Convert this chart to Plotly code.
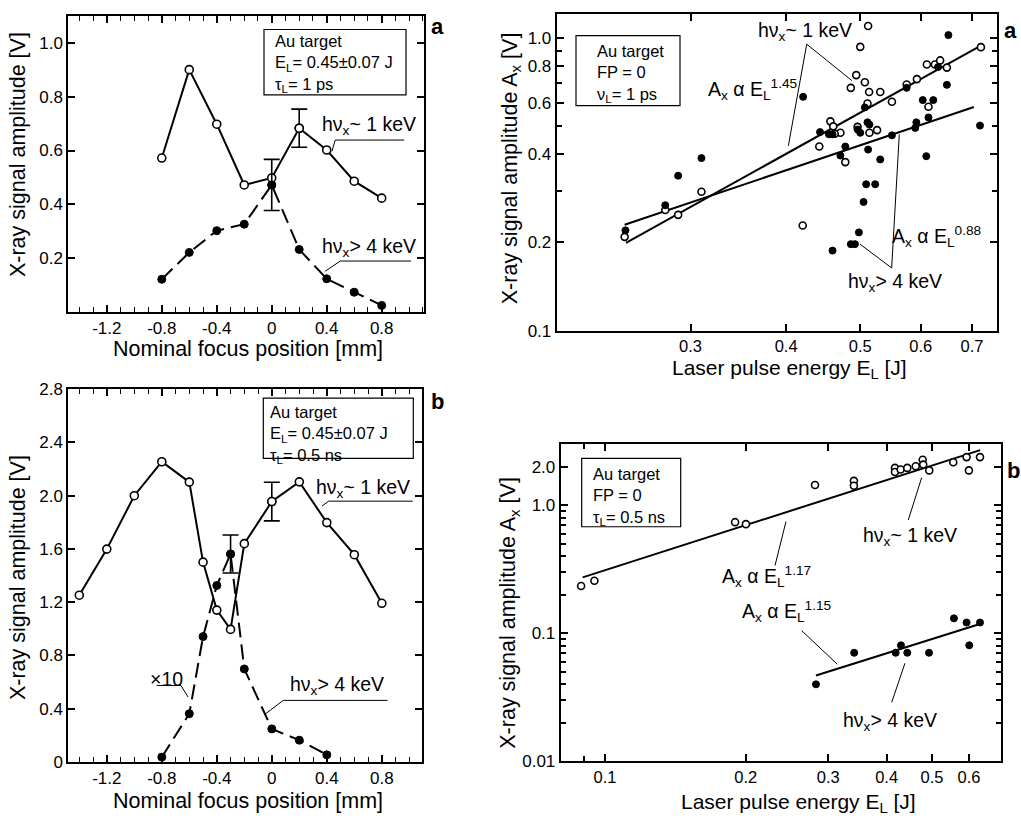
import numpy as np
import plotly.graph_objects as go

W, H = 1021, 823
FONT = "Liberation Sans, Arial, Helvetica, sans-serif"

# ---------------- data ----------------
# Panel a (left): focus scan, tau_L = 1 ps
a_focus_pos = [-0.8, -0.6, -0.4, -0.2, 0.0, 0.2, 0.4, 0.6, 0.8]
a_amp_1kev = [0.572, 0.901, 0.698, 0.472, 0.498, 0.683, 0.602, 0.486, 0.423]
a_amp_4kev = [0.121, 0.221, 0.302, 0.326, 0.472, 0.232, 0.123, 0.073, 0.024]
a_err1_pos, a_err1_val, a_err1 = [0.2], [0.683], [0.071]
a_err4_pos, a_err4_val, a_err4 = [0.0], [0.472], [0.095]

# Panel b (left): focus scan, tau_L = 0.5 ns (4 keV signal x10)
b_pos_1kev = [-1.4, -1.2, -1.0, -0.8, -0.6, -0.5, -0.4, -0.3, -0.2, 0.0, 0.2, 0.4, 0.6, 0.8]
b_amp_1kev = [1.252, 1.598, 1.999, 2.254, 2.101, 1.50, 1.14, 0.995, 1.639, 1.955, 2.103, 1.797, 1.556, 1.191]
b_pos_4kev = [-0.8, -0.6, -0.5, -0.4, -0.3, -0.2, 0.0, 0.2, 0.4]
b_amp_4kev = [0.036, 0.362, 0.941, 1.325, 1.561, 0.698, 0.248, 0.163, 0.053]
b_err1_pos, b_err1_val, b_err1 = [0.0], [1.955], [0.145]
b_err4_pos, b_err4_val, b_err4 = [-0.3], [1.561], [0.143]

# Panel a (right): energy scan, 1 ps
ea_E_1kev = [0.246, 0.278, 0.289, 0.310, 0.512, 0.500, 0.719, 0.494, 0.507, 0.486,
             0.5135, 0.531, 0.511, 0.550, 0.575, 0.593, 0.611, 0.626, 0.636, 0.649,
             0.614, 0.457, 0.461, 0.471, 0.463, 0.442, 0.478, 0.496, 0.514, 0.526, 0.4205]
ea_A_1kev = [0.209, 0.258, 0.2485, 0.298, 1.096, 0.930, 0.928, 0.745, 0.704, 0.674,
             0.652, 0.652, 0.596, 0.604, 0.692, 0.722, 0.810, 0.810, 0.836, 0.790,
             0.581, 0.518, 0.498, 0.4735, 0.470, 0.425, 0.376, 0.496, 0.4735, 0.4835, 0.2284]
ea_E_4kev = [0.2466, 0.278, 0.289, 0.310, 0.652, 0.649, 0.421, 0.507, 0.6035, 0.623,
             0.575, 0.614, 0.511, 0.514, 0.592, 0.590, 0.717, 0.443, 0.455, 0.460,
             0.496, 0.500, 0.550, 0.478, 0.471, 0.512, 0.531, 0.610, 0.509, 0.523,
             0.505, 0.498, 0.486, 0.492, 0.460, 0.632]
ea_A_4kev = [0.220, 0.268, 0.338, 0.388, 1.02, 0.690, 0.628, 0.578, 0.612, 0.612,
             0.674, 0.534, 0.514, 0.505, 0.514, 0.492, 0.501, 0.476, 0.468, 0.468,
             0.486, 0.4735, 0.464, 0.425, 0.396, 0.415, 0.384, 0.394, 0.316, 0.316,
             0.275, 0.2165, 0.1974, 0.1974, 0.1876, 0.794]
ea_fit1_exp, ea_fit1_pref, ea_fit1_E = 1.45, 1.515, [0.247, 0.717]
ea_fit4_exp, ea_fit4_pref, ea_fit4_E = 0.88, 0.79, [0.246, 0.704]

# Panel b (right): energy scan, 0.5 ns
eb_E_1kev = [0.0889, 0.0949, 0.1897, 0.2001, 0.2812, 0.3405, 0.3405, 0.4168, 0.4168, 0.4286,
             0.4428, 0.4616, 0.4777, 0.479, 0.4934, 0.5553, 0.593, 0.5998, 0.6334]
eb_A_1kev = [0.234, 0.257, 0.738, 0.712, 1.439, 1.552, 1.42, 1.96, 1.818, 1.906,
             1.96, 2.02, 2.27, 2.08, 1.873, 2.17, 2.38, 1.873, 2.38]
eb_E_4kev = [0.2825, 0.341, 0.4182, 0.4293, 0.4428, 0.4928, 0.5572, 0.593, 0.6334, 0.6008]
eb_A_4kev = [0.0399, 0.0704, 0.0704, 0.0805, 0.0704, 0.0704, 0.1308, 0.1213, 0.1213, 0.0805]
eb_fit1_exp, eb_fit1_pref, eb_fit1_E = 1.17, 4.6, [0.0896, 0.634]
eb_fit4_exp, eb_fit4_pref, eb_fit4_E = 1.15, 0.2, [0.2825, 0.638]

# tick labels
focus_ticks = [-1.2, -0.8, -0.4, 0.0, 0.4, 0.8]
focus_ticktext = ["-1.2", "-0.8", "-0.4", "0", "0.4", "0.8"]
a_yticks = [0.2, 0.4, 0.6, 0.8, 1.0]
a_yticktext = ["0.2", "0.4", "0.6", "0.8", "1.0"]
b_yticks = [0, 0.4, 0.8, 1.2, 1.6, 2.0, 2.4, 2.8]
b_yticktext = ["0", "0.4", "0.8", "1.2", "1.6", "2.0", "2.4", "2.8"]
ea_xticks = [0.3, 0.4, 0.5, 0.6, 0.7]
ea_xticktext = ["0.3", "0.4", "0.5", "0.6", "0.7"]
ea_yticks = [0.1, 0.2, 0.4, 0.6, 0.8, 1.0]
ea_yticktext = ["0.1", "0.2", "0.4", "0.6", "0.8", "1.0"]
eb_xticks = [0.1, 0.2, 0.3, 0.4, 0.5, 0.6]
eb_xticktext = ["0.1", "0.2", "0.3", "0.4", "0.5", "0.6"]
eb_yticks = [0.01, 0.1, 1.0, 2.0]
eb_yticktext = ["0.01", "0.1", "1.0", "2.0"]

# ---------------- helpers ----------------
def px(X):
    return X / W


def py(Y):
    return 1 - Y / H


def mk(filled, size=8):
    if filled:
        return dict(symbol="circle", size=size, color="black", line=dict(color="black", width=1))
    return dict(symbol="circle", size=size, color="white", line=dict(color="black", width=1.6))


fig = go.Figure()


def add_series(x, y, xa, ya, filled, mode="lines+markers", dash="solid", size=8, lw=2):
    fig.add_trace(go.Scatter(x=x, y=y, xaxis=xa, yaxis=ya, mode=mode,
                             line=dict(color="black", width=lw, dash=dash),
                             marker=mk(filled, size), showlegend=False, hoverinfo="skip"))


def add_err(x, y, e, xa, ya, filled):
    fig.add_trace(go.Scatter(x=x, y=y, xaxis=xa, yaxis=ya, mode="markers",
                             marker=mk(filled),
                             error_y=dict(type="data", array=e, color="black", thickness=1.6, width=8),
                             showlegend=False, hoverinfo="skip"))


def add_fit(E, pref, expo, xa, ya):
    E = np.array(E)
    fig.add_trace(go.Scatter(x=E, y=pref * E ** expo, xaxis=xa, yaxis=ya, mode="lines",
                             line=dict(color="black", width=2), showlegend=False, hoverinfo="skip"))


LONGDASH = "15px,7px"

# panel a left
add_series(a_focus_pos, a_amp_4kev, "x", "y", True, dash=LONGDASH)
add_series(a_focus_pos, a_amp_1kev, "x", "y", False)
add_err(a_err4_pos, a_err4_val, a_err4, "x", "y", True)
add_err(a_err1_pos, a_err1_val, a_err1, "x", "y", False)

# panel b left
add_series(b_pos_4kev, b_amp_4kev, "x3", "y3", True, dash=LONGDASH)
add_series(b_pos_1kev, b_amp_1kev, "x3", "y3", False)
add_err(b_err1_pos, b_err1_val, b_err1, "x3", "y3", False)
add_err(b_err4_pos, b_err4_val, b_err4, "x3", "y3", True)

# panel a right
add_fit(ea_fit1_E, ea_fit1_pref, ea_fit1_exp, "x2", "y2")
add_fit(ea_fit4_E, ea_fit4_pref, ea_fit4_exp, "x2", "y2")
add_series(ea_E_1kev, ea_A_1kev, "x2", "y2", False, mode="markers", size=7)
add_series(ea_E_4kev, ea_A_4kev, "x2", "y2", True, mode="markers", size=7)

# panel b right
add_fit(eb_fit1_E, eb_fit1_pref, eb_fit1_exp, "x4", "y4")
add_fit(eb_fit4_E, eb_fit4_pref, eb_fit4_exp, "x4", "y4")
add_series(eb_E_1kev, eb_A_1kev, "x4", "y4", False, mode="markers", size=7)
add_series(eb_E_4kev, eb_A_4kev, "x4", "y4", True, mode="markers", size=7)

# ---------------- axes ----------------
TICKSIZE = 17


def axis(domain, rng, tickvals, ticktext, anchor, typ="linear", minor=None, tsize=TICKSIZE):
    d = dict(domain=domain, range=rng, type=typ, anchor=anchor,
             tickmode="array", tickvals=tickvals, ticktext=ticktext,
             ticks="inside", ticklen=7, tickwidth=1.5, tickcolor="black",
             showline=True, linewidth=2, linecolor="black", mirror="ticks",
             showgrid=False, zeroline=False,
             tickfont=dict(family=FONT, size=tsize, color="black"))
    if minor is not None:
        d["minor"] = minor
    return d


minor_lin = dict(tickmode="linear", tick0=0, dtick=0.1, ticks="inside", ticklen=5,
                 tickwidth=1.2, tickcolor="black", showgrid=False)

fig.update_layout(
    xaxis=axis([px(68.3), px(424.3)], [-1.48, 1.11], focus_ticks, focus_ticktext, "y", minor=minor_lin),
    yaxis=axis([py(310), py(7.3)], [0, 1.1], a_yticks, a_yticktext, "x"),
    xaxis3=axis([px(68.3), px(421.7)], [-1.48, 1.09], focus_ticks, focus_ticktext, "y3", minor=minor_lin),
    yaxis3=axis([py(770.7), py(389)], [0, 2.8001], b_yticks, b_yticktext, "x3"),
    xaxis2=axis([px(556.7), px(996.7)], [np.log10(0.2005), np.log10(0.754)], ea_xticks, ea_xticktext, "y2",
                typ="log", minor=dict(tickvals=[0.2], ticks="inside", ticklen=5, tickcolor="black"), tsize=16.5),
    yaxis2=axis([py(329.3), py(5)], [-1, 0.081], ea_yticks, ea_yticktext, "x2", typ="log",
                minor=dict(tickvals=[0.3, 0.5, 0.7, 0.9], ticks="inside", ticklen=5, tickcolor="black")),
    xaxis4=axis([px(560.7), px(1000.7)], [np.log10(0.0804), np.log10(0.7014)], eb_xticks, eb_xticktext, "y4",
                typ="log", minor=dict(tickvals=[0.09, 0.7], ticks="inside", ticklen=5, tickcolor="black"), tsize=16.5),
    yaxis4=axis([py(770), py(445.7)], [-2, 0.4757], eb_yticks, eb_yticktext, "x4", typ="log",
                minor=dict(tickvals=[0.02, 0.03, 0.04, 0.05, 0.06, 0.07, 0.08, 0.09,
                                     0.2, 0.3, 0.4, 0.5, 0.6, 0.7, 0.8, 0.9, 3.0],
                           ticks="inside", ticklen=5, tickcolor="black")),
)

# ---------------- annotations ----------------
ann = []
shapes = []


def text(x, y, s, xref="paper", yref="paper", size=19.5, xanchor="center", yanchor="middle",
         align="center", angle=0, bold=False):
    if bold:
        s = "<b>" + s + "</b>"
    ann.append(dict(x=x, y=y, xref=xref, yref=yref, text=s, showarrow=False,
                    xanchor=xanchor, yanchor=yanchor, align=align, textangle=angle,
                    font=dict(family=FONT, size=size, color="black")))


def leader(pts, xref, yref, width=1):
    for (x0, y0), (x1, y1) in zip(pts[:-1], pts[1:]):
        shapes.append(dict(type="line", xref=xref, yref=yref, x0=x0, y0=y0, x1=x1, y1=y1,
                           line=dict(color="black", width=width)))


def box(x0, y0, x1, y1, lines, tx, ty):
    shapes.append(dict(type="rect", xref="paper", yref="paper", x0=px(x0), y0=py(y0), x1=px(x1), y1=py(y1),
                       line=dict(color="black", width=1.2)))
    text(px(tx), py(ty), "<br>".join(lines), size=16.5, xanchor="left", yanchor="top", align="left")


# axis titles
TS = 21.5
YT = "X-ray signal amplitude [V]"
YT2 = "X-ray signal amplitude A<sub>x</sub> [V]"
XT = "Nominal focus position [mm]"
XT2 = "Laser pulse energy E<sub>L</sub> [J]"
text(px(17.5), py(149), YT, size=TS, angle=-90)
text(px(17.5), py(582), YT, size=TS, angle=-90)
text(px(248), py(348), XT, size=TS)
text(px(248), py(811), XT, size=TS)
text(px(511), py(163), YT2, size=TS, angle=-90)
text(px(510), py(618), YT2, size=TS, angle=-90)
text(px(789), py(369), XT2, size=21)
text(px(798), py(813), XT2, size=21)

# panel labels
text(px(437), py(18), "a", size=22, bold=True)
text(px(1010), py(22), "a", size=22, bold=True)
text(px(437), py(402), "b", size=22, bold=True)
text(px(1013), py(472), "b", size=22, bold=True)

# info boxes
box(264, 21, 406, 88, ["Au target", "E<sub>L</sub>= 0.45±0.07 J", "τ<sub>L</sub>= 1 ps"], 273, 22)
box(263.3, 398.3, 413.3, 460, ["Au target", "E<sub>L</sub>= 0.45±0.07 J", "τ<sub>L</sub>= 0.5 ns"], 268, 401)
box(576, 27.3, 680, 99, ["Au target", "FP = 0", "ν<sub>L</sub>= 1 ps"], 595, 32)
box(581.7, 460, 680.7, 530, ["Au target", "FP = 0", "τ<sub>L</sub>= 0.5 ns"], 591, 465)

K1 = "hν<sub>x</sub>~ 1 keV"
K4 = "hν<sub>x</sub>> 4 keV"

# panel a left labels
text(0.71, 0.693, K1, "x", "y")
text(0.71, 0.239, K4, "x", "y")
leader([(0.438, 0.597), (0.462, 0.639), (0.964, 0.639)], "x", "y")
leader([(0.389, 0.151), (0.499, 0.189), (1.013, 0.189)], "x", "y")

# panel b left labels
text(0.66, 2.053, K1, "x3", "y3")
text(0.475, 0.576, K4, "x3", "y3")
text(-0.763, 0.62, "×10", "x3", "y3")
leader([(0.365, 1.921), (0.413, 1.958), (1.025, 1.958)], "x3", "y3")
leader([(-0.051, 0.357), (0.083, 0.462), (0.842, 0.462)], "x3", "y3")
leader([(-0.837, 0.574), (-0.661, 0.574), (-0.609, 0.487)], "x3", "y3")

# panel a right labels (annotation coords in log10 on log axes)
text(-0.3732, 0.021, K1, "x2", "y2")
text(-0.4411, -0.1757, "A<sub>x</sub> α E<sub>L</sub><sup>1.45</sup>", "x2", "y2")
text(-0.201, -0.679, "A<sub>x</sub> α E<sub>L</sub><sup>0.88</sup>", "x2", "y2")
text(-0.2555, -0.836, K4, "x2", "y2")
leader([(0.4027, 0.4276), (0.4256, 0.950), (0.4874, 0.7137)], "x2", "y2")
leader([(0.5624, 0.4677), (0.5496, 0.1637), (0.4996, 0.1974)], "x2", "y2")

# panel b right labels
text(-0.348, -0.242, K1, "x4", "y4")
text(-0.6543, -0.5595, "A<sub>x</sub> α E<sub>L</sub><sup>1.17</sup>", "x4", "y4")
text(-0.6116, -0.8267, "A<sub>x</sub> α E<sub>L</sub><sup>1.15</sup>", "x4", "y4")
text(-0.3908, -1.692, K4, "x4", "y4")
leader([(0.4451, 0.768), (0.4753, 1.644)], "x4", "y4")
leader([(0.2309, 0.338), (0.2437, 0.7455)], "x4", "y4")
leader([(0.2633, 0.1049), (0.3137, 0.0573)], "x4", "y4")
leader([(0.4102, 0.02886), (0.4378, 0.0583)], "x4", "y4")

fig.update_layout(
    width=W, height=H, margin=dict(l=0, r=0, t=0, b=0),
    paper_bgcolor="white", plot_bgcolor="white",
    font=dict(family=FONT, color="black"),
    showlegend=False, annotations=ann, shapes=shapes,
)

fig.write_html("out.html", config={"displayModeBar": False},
               post_script="document.body.style.margin='0px';document.body.style.overflow='hidden';")
